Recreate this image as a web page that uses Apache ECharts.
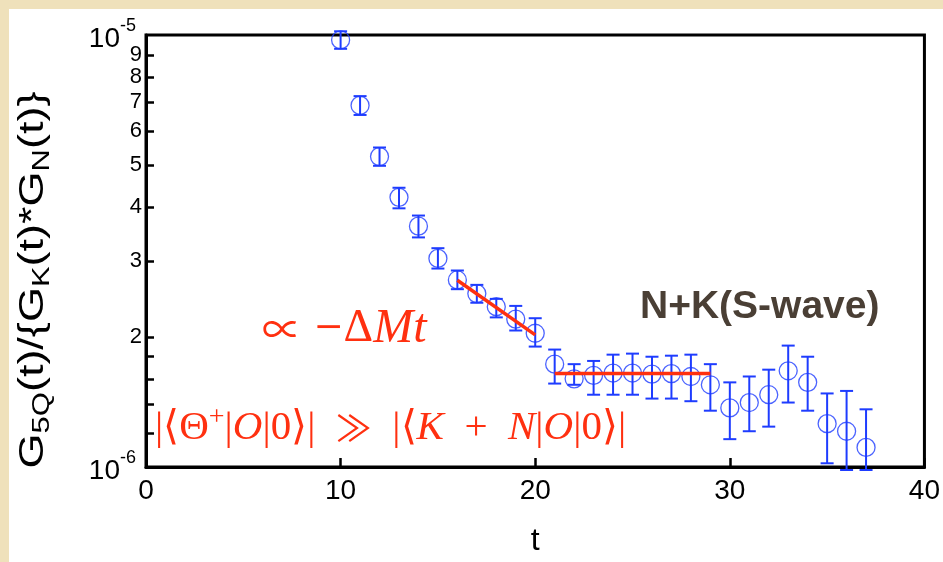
<!DOCTYPE html>
<html>
<head>
<meta charset="utf-8">
<script src="https://cdn.jsdelivr.net/npm/echarts@6.0.0/dist/echarts.min.js"></script>
<style>
  html, body { margin: 0; padding: 0; width: 943px; height: 562px; overflow: hidden; background: #efe1bb; }
  #paper { position: absolute; left: 9px; top: 9px; right: 0; bottom: 0; background: #ffffff; }
  #chart { position: absolute; left: 0; top: 0; width: 943px; height: 562px; }
</style>
</head>
<body>
<div id="paper"></div>
<div id="chart"></div>
<script>
// ---- data (ratio values in units of 1e-6) ----
const tValues   = [10, 11, 12, 13, 14, 15, 16, 17, 18, 19, 20, 21, 22, 23, 24, 25, 26, 27, 28, 29, 30, 31, 32, 33, 34, 35, 36, 37];
const ratio     = [9.74, 6.87, 5.23, 4.21, 3.61, 3.04, 2.71, 2.52, 2.35, 2.20, 2.04, 1.73, 1.60, 1.63, 1.65, 1.65, 1.64, 1.645, 1.62, 1.55, 1.37, 1.41, 1.47, 1.67, 1.57, 1.26, 1.21, 1.11];
const errLow    = [9.29, 6.53, 4.98, 3.97, 3.40, 2.88, 2.58, 2.40, 2.22, 2.07, 1.90, 1.56, 1.55, 1.47, 1.47, 1.47, 1.44, 1.44, 1.42, 1.35, 1.16, 1.21, 1.24, 1.41, 1.35, 1.02, 0.984, 0.984];
const errHigh   = [10.2, 7.22, 5.49, 4.43, 3.82, 3.21, 2.85, 2.64, 2.45, 2.36, 2.21, 1.87, 1.73, 1.76, 1.82, 1.83, 1.80, 1.81, 1.82, 1.73, 1.57, 1.62, 1.68, 1.91, 1.80, 1.48, 1.50, 1.36];
const fitSlopeT = [16, 20];
const fitSlopeV = [2.705, 2.022];
const plateauT  = [21, 29];
const plateauV  = [1.645, 1.645];
const xTicks    = [0, 10, 20, 30, 40];
const yTickVals = [1.2, 1.4, 1.6, 1.8, 2, 3, 4, 5, 6, 7, 8, 9];
const yDigitLabels = [2, 3, 4, 5, 6, 7, 8, 9];
const yDecadeVals = [1, 10];
const yDecadeLabels = { 1: '-6', 10: '-5' };

const BLUE = '#1e3cff';
const RED = '#ff3010';
const FONT = 'Liberation Sans';

const chart = echarts.init(document.getElementById('chart'), null, { renderer: 'canvas' });

const pts = tValues.map((t, i) => [t, ratio[i]]);
const bars = tValues.map((t, i) => [t, errLow[i], errHigh[i]]);

const option = {
  animation: false,
  backgroundColor: 'transparent',
  grid: { left: 146, right: 17, top: 35, bottom: 92, show: true, borderColor: '#000', borderWidth: 3, backgroundColor: 'transparent' },
  xAxis: {
    type: 'value', min: 0, max: 40, interval: 10,
    name: 't', nameLocation: 'middle', nameGap: 58,
    nameTextStyle: { fontFamily: FONT, fontSize: 32, color: '#000' },
    axisLine: { show: true, lineStyle: { color: '#000', width: 3 } },
    axisTick: { show: true, inside: true, length: 9, lineStyle: { color: '#000', width: 2.5 }, customValues: xTicks },
    axisLabel: { color: '#000', fontFamily: FONT, fontSize: 28, margin: 10, customValues: xTicks, showMinLabel: true, showMaxLabel: true },
    splitLine: { show: false }
  },
  yAxis: [
    {
      type: 'log', logBase: 10, min: 1, max: 10, position: 'left',
      axisLine: { show: true, lineStyle: { color: '#000', width: 3 } },
      axisTick: { show: true, inside: true, length: 8, lineStyle: { color: '#000', width: 2.5 }, customValues: yTickVals },
      axisLabel: {
        color: '#000', fontFamily: FONT, fontSize: 22, margin: 4,
        customValues: yDigitLabels, showMinLabel: true, showMaxLabel: true,
        formatter: function (v) { return String(Math.round(v)); }
      },
      splitLine: { show: false }
    },
    {
      // decade labels 10^-6 and 10^-5 on the same scale
      type: 'log', logBase: 10, min: 1, max: 10, position: 'left',
      axisLine: { show: false }, axisTick: { show: false }, splitLine: { show: false },
      axisLabel: {
        color: '#000', fontFamily: FONT, margin: 4,
        customValues: yDecadeVals, showMinLabel: true, showMaxLabel: true,
        formatter: function (v) {
          const k = Math.round(v);
          return '{b|10}{p|' + yDecadeLabels[k] + '}';
        },
        rich: {
          b: { fontFamily: FONT, fontSize: 28, lineHeight: 36, verticalAlign: 'bottom', color: '#000' },
          p: { fontFamily: FONT, fontSize: 18, lineHeight: 30, verticalAlign: 'top', color: '#000', padding: [0, 6, 0, 0] }
        }
      }
    }
  ],
  series: [
    {
      type: 'custom', name: 'err', clip: false, z: 3,
      data: bars,
      renderItem: function (params, api) {
        const top = api.coord([api.value(0), api.value(2)]);
        const bot = api.coord([api.value(0), api.value(1)]);
        const hw = 6.5;
        const st = { stroke: BLUE, lineWidth: 2, fill: null };
        return {
          type: 'group',
          children: [
            { type: 'line', shape: { x1: top[0], y1: top[1], x2: bot[0], y2: bot[1] }, style: st },
            { type: 'line', shape: { x1: top[0] - hw, y1: top[1], x2: top[0] + hw, y2: top[1] }, style: st },
            { type: 'line', shape: { x1: bot[0] - hw, y1: bot[1], x2: bot[0] + hw, y2: bot[1] }, style: st }
          ]
        };
      }
    },
    {
      type: 'scatter', clip: false, z: 4,
      data: pts,
      symbol: 'circle', symbolSize: 18,
      itemStyle: { color: 'rgba(0,0,0,0)', borderColor: BLUE, borderWidth: 1.3 }
    },
    {
      type: 'line', z: 5, clip: false, symbol: 'none',
      data: fitSlopeT.map((t, i) => [t, fitSlopeV[i]]),
      lineStyle: { color: RED, width: 3.5 }
    },
    {
      type: 'line', z: 5, clip: false, symbol: 'none',
      data: plateauT.map((t, i) => [t, plateauV[i]]),
      lineStyle: { color: RED, width: 3.5 }
    }
  ],
  graphic: [
    {
      // y-axis title (rotated)
      type: 'text', x: 33, y: 280, rotation: Math.PI / 2, scaleY: 0.78, z: 10,
      style: {
        text: 'G{s|5Q}(t)/{G{s|K}(t)*G{s|N}(t)}',
        align: 'center', verticalAlign: 'middle',
        fontFamily: FONT, fontSize: 45, fill: '#000', lineHeight: 54,
        rich: { s: { fontFamily: FONT, fontSize: 31, lineHeight: 30, verticalAlign: 'bottom', fill: '#000' } }
      }
    },
    {
      type: 'text', x: 640, y: 307, z: 10,
      style: { text: 'N+K(S-wave)', align: 'left', verticalAlign: 'middle', fontFamily: FONT, fontWeight: 'bold', fontSize: 39, fill: '#4a3f35' }
    },
    {
      type: 'text', x: 262, y: 329, z: 10,
      style: {
        text: '{a|∝}{n| −}{d|Δ}{i|Mt}', align: 'left', verticalAlign: 'middle',
        rich: {
          a: { fontFamily: 'Noto Sans CJK JP', fontSize: 40, fill: RED, lineHeight: 48 },
          n: { fontFamily: 'DejaVu Serif', fontSize: 36, fill: RED, lineHeight: 48 },
          d: { fontFamily: 'Liberation Serif', fontSize: 46, fill: RED, lineHeight: 48 },
          i: { fontFamily: 'Liberation Serif', fontStyle: 'italic', fontSize: 48, fill: RED, lineHeight: 48 }
        }
      }
    },
    {
      type: 'text', x: 155, y: 428, z: 10,
      style: {
        text: '{n||⟨Θ}{u|+}{n||}{i|O}{n||0⟩|  }{r|≫}{n|  |⟨}{i|K}{n|  +  }{i|N}{n||}{i|O}{n||0⟩|}',
        align: 'left', verticalAlign: 'middle',
        rich: {
          n: { fontFamily: 'Liberation Serif', fontSize: 41, fill: RED, lineHeight: 48 },
          i: { fontFamily: 'Liberation Serif', fontStyle: 'italic', fontSize: 41, fill: RED, lineHeight: 48 },
          r: { fontFamily: 'Noto Sans CJK JP', fontSize: 36, fill: RED, lineHeight: 48 },
          u: { fontFamily: 'Liberation Serif', fontSize: 28, fill: RED, lineHeight: 34, verticalAlign: 'top' }
        }
      }
    }
  ]
};
chart.setOption(option);
</script>
</body>
</html>
